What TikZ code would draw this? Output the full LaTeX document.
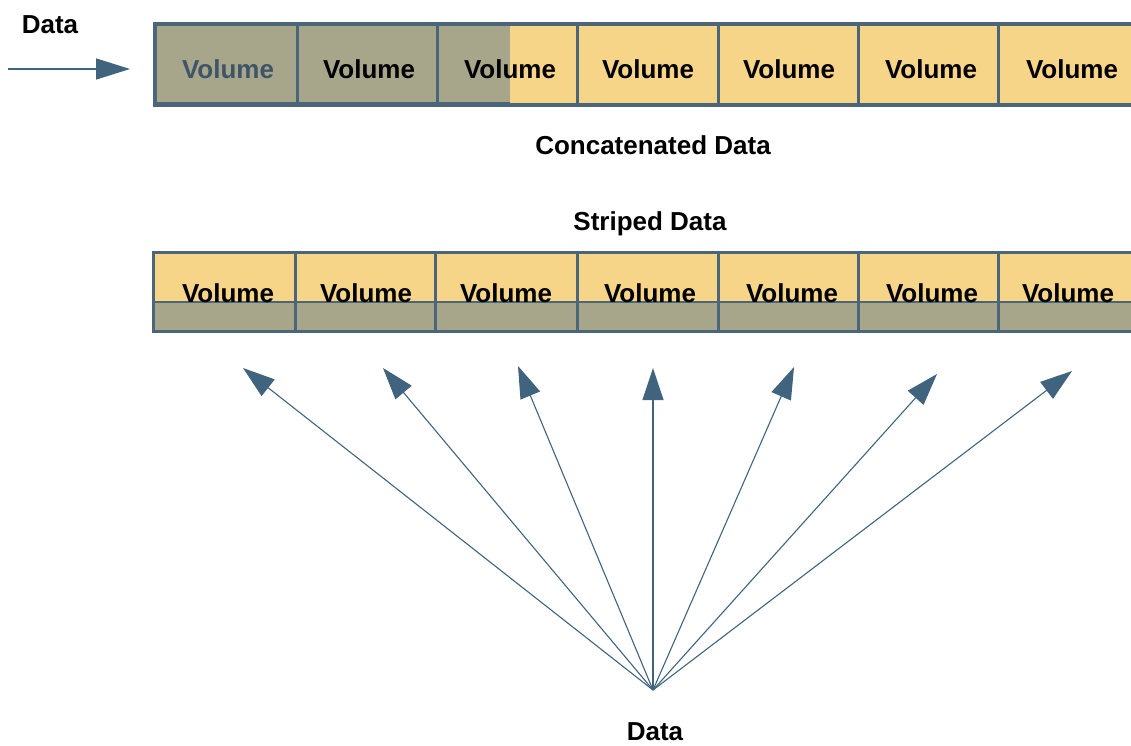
\documentclass[tikz,border=0pt]{standalone}
\usepackage{fontspec}
\setmainfont{Liberation Sans}
\usetikzlibrary{arrows.meta}

\definecolor{volyellow}{HTML}{F6D488}
\definecolor{volgray}{HTML}{A8A68A}
\definecolor{framecol}{HTML}{4B657A}
\definecolor{arrowblue}{HTML}{41647E}
\definecolor{graytext}{HTML}{3E5569}

\tikzset{
  lbl/.style={font=\fontsize{26}{31}\selectfont\bfseries, inner sep=0pt, anchor=base},
  divider/.style={draw=framecol, line width=3pt},
  outline/.style={draw=framecol, line width=4pt},
  feed/.style={draw=arrowblue, line width=1.1pt, -{Triangle[length=32pt,width=21pt]}},
}

\begin{document}
\begin{tikzpicture}[x=1pt,y=-1pt]
\useasboundingbox (0,0) rectangle (1131,745);
\clip (0,0) rectangle (1131,745);

% concatenated volumes, the first part filled up
\fill[volyellow] (155,24) rectangle (1140,105);
\fill[volgray] (155,24) rectangle (510,105);
\foreach \x in {297,437,577,718,858,998}
  \draw[divider] (\x,24) -- (\x,105);
\draw[outline] (155,24) rectangle (1140,105);
\draw[framecol, line width=5pt] (155,104) -- (510,104);
\node[lbl, text=graytext] (c1) at (228,78) {Volume};
\foreach \i/\x in {2/369,3/510,4/648,5/789,6/931,7/1072}
  \node[lbl] (c\i) at (\x,78) {Volume};

\coordinate (in) at (8,69);
\coordinate (inend) at (130,69);
\node[lbl] (cdata) at (50,33) {Data};
\draw[feed, line width=1.5pt, -{Triangle[length=34pt,width=21pt]}] (in) -- (inend);
\node[lbl] (ctitle) at (653,154) {Concatenated Data};

% striped volumes
\node[lbl] (stitle) at (650,230) {Striped Data};
\fill[volyellow] (153,252) rectangle (1140,302);
\fill[volgray] (153,302) rectangle (1140,331);
\draw[framecol, line width=2pt] (153,302) -- (1140,302);
\foreach \x in {295,435,577,718,858,998}
  \draw[divider] (\x,252) -- (\x,331);
\draw[outline, line width=3pt] (153,252) rectangle (1140,331);
\foreach \i/\x in {1/228,2/366,3/506,4/650,5/792,6/932,7/1068}
  \node[lbl] (s\i) at (\x,302) {Volume};

% data spread over all volumes
\coordinate (src) at (653,690);
\node[lbl] (sdata) at (655,740) {Data};
\foreach \i/\x/\y in {1/243/368,2/383/368,3/518/366,4/653/368,5/794/367,6/937/374,7/1072/371}{
  \coordinate (t\i) at (\x,\y);
  \draw[feed] (src) -- (t\i);
}
\end{tikzpicture}
\end{document}
